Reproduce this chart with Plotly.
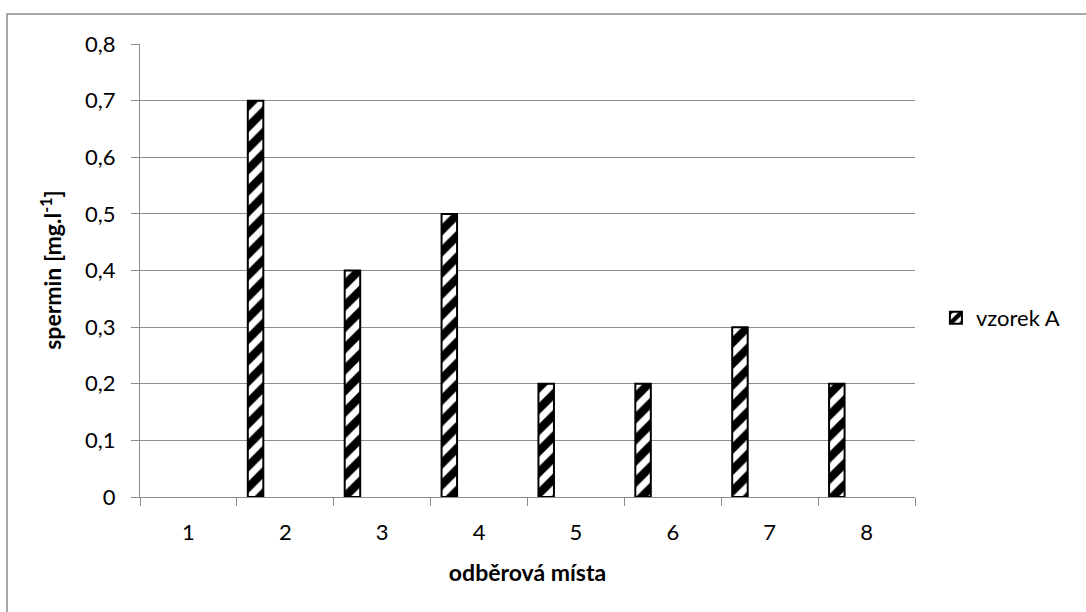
import plotly.graph_objects as go

categories = ["1", "2", "3", "4", "5", "6", "7", "8"]
vzorek_a = [None, 0.7, 0.4, 0.5, 0.2, 0.2, 0.3, 0.2]
y_tick_vals = [0, 0.1, 0.2, 0.3, 0.4, 0.5, 0.6, 0.7, 0.8]
y_tick_text = ["0", "0,1", "0,2", "0,3", "0,4", "0,5", "0,6", "0,7", "0,8"]

FONT = "Lato, 'Open Sans', sans-serif"
GRID = "#8c8c8c"

fig = go.Figure()
fig.add_trace(go.Bar(
    x=categories, y=vzorek_a, name="vzorek A",
    width=0.16, offset=-0.387,
    marker=dict(color="white",
                line=dict(color="black", width=2),
                pattern=dict(shape="/", fgcolor="black", bgcolor="white",
                             fgopacity=1, size=15, solidity=0.55)),
))

fig.update_layout(
    width=1086, height=612,
    margin=dict(l=140, r=171, t=44, b=115, autoexpand=False),
    paper_bgcolor="white", plot_bgcolor="white",
    font=dict(family=FONT, size=22, color="black"),
    showlegend=True,
    legend=dict(x=1.027, y=0.395, xanchor="left", yanchor="middle",
                font=dict(size=22), itemwidth=30, bgcolor="rgba(0,0,0,0)"),
    xaxis=dict(type="category", tickson="boundaries", range=[-0.5, 7.5],
               showline=True, linecolor=GRID, linewidth=1,
               ticks="outside", ticklen=8, tickcolor=GRID, tickwidth=1,
               showgrid=False, ticklabelstandoff=16,
               title=dict(text="<b>odběrová místa</b>", standoff=20,
                          font=dict(size=23)),
               automargin=False),
    yaxis=dict(range=[0, 0.8], tickvals=y_tick_vals, ticktext=y_tick_text,
               showline=True, linecolor=GRID, linewidth=1,
               ticks="outside", ticklen=8, tickcolor=GRID, tickwidth=1,
               showgrid=True, gridcolor=GRID, gridwidth=1,
               zeroline=False, ticklabelstandoff=11,
               automargin=False),
    annotations=[dict(text="<b>spermin [mg.l<sup>-1</sup>]</b>", textangle=-90,
                      xref="paper", yref="paper", x=-0.1145, y=0.5,
                      xanchor="center", yanchor="middle", showarrow=False,
                      font=dict(size=23))],
    shapes=[dict(type="rect", xref="paper", yref="paper",
                 x0=-0.1716, x1=1.4, y0=-0.5, y1=1.0662,
                 line=dict(color=GRID, width=1.5), layer="below")],
)

fig.write_html("out.html", config={"displayModeBar": False},
               post_script="document.body.style.margin='0';document.body.style.padding='0';")
